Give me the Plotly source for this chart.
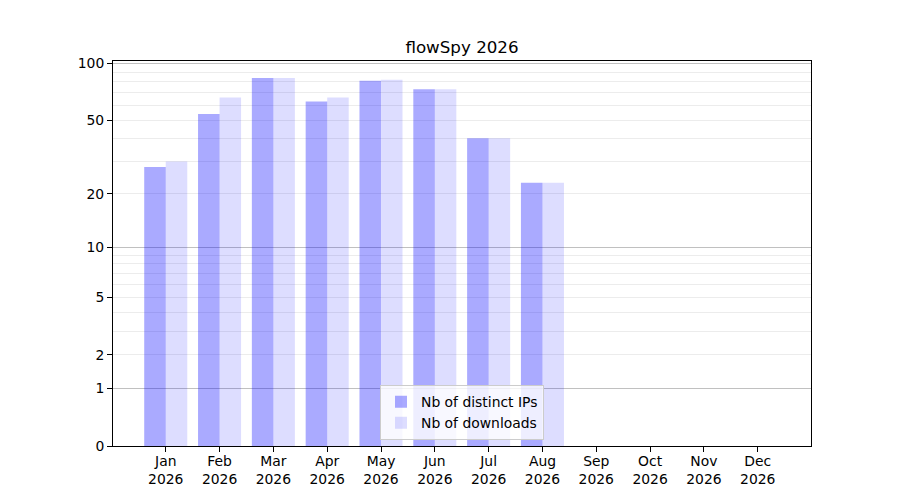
import math
import plotly.graph_objects as go

# Data
months = ["Jan", "Feb", "Mar", "Apr", "May", "Jun", "Jul", "Aug", "Sep", "Oct", "Nov", "Dec"]
year = "2026"
distinct_ips = [28, 54, 84, 63, 81, 73, 40, 23, 0, 0, 0, 0]
downloads = [30, 66, 84, 66, 82, 73, 40, 23, 0, 0, 0, 0]

# y axis is log10(1 + v): ticks, light grid and dark grid
y_ticks = [0, 1, 2, 5, 10, 20, 50, 100]
minor_grid = [2, 3, 4, 5, 6, 7, 8, 9, 20, 30, 40, 50, 60, 70, 80, 90]
major_grid = [1, 10, 100]
y_top = 103.2

x = list(range(len(months)))
labels = [m + "<br>" + year for m in months]

fig = go.Figure()

fig.add_trace(go.Bar(
    x=x, y=distinct_ips, base=1,
    name="Nb of distinct IPs",
    marker_color="rgba(0,0,255,0.333)",
    marker_line_width=0,
))
fig.add_trace(go.Bar(
    x=x, y=downloads, base=1,
    name="Nb of downloads",
    marker_color="rgba(0,0,255,0.133)",
    marker_line_width=0,
))
# empty trace so the overlay axis (dark grid) is drawn
fig.add_trace(go.Scatter(x=[], y=[], yaxis="y2", showlegend=False, hoverinfo="skip"))

font = dict(family="DejaVu Sans", size=13.9, color="black")
y_range = [0, math.log10(y_top + 1)]

# the page body has an 8px margin, so shift the plot area up/left by 8px
fig.update_layout(
    width=900, height=500,
    margin=dict(l=105, r=97, t=53, b=62),
    paper_bgcolor="white", plot_bgcolor="white",
    font=font,
    barmode="group", bargap=0.2, bargroupgap=0,
    title=dict(text="flowSpy 2026", x=0.5, xref="paper", xanchor="center",
               y=1, yref="paper", yanchor="bottom", pad=dict(b=8),
               font=dict(family="DejaVu Sans", size=16.7, color="black")),
    legend=dict(x=0.5, xanchor="center", y=0.015, yanchor="bottom",
                bgcolor="rgba(255,255,255,0.8)", bordercolor="#cccccc", borderwidth=1,
                font=font),
    showlegend=True,
)

fig.update_xaxes(
    range=[-0.98, 11.99],
    tickmode="array", tickvals=x, ticktext=labels,
    ticks="outside", ticklen=5, tickcolor="black",
    ticklabelstandoff=-3,
    showline=True, linecolor="black", linewidth=1, mirror=True,
    showgrid=False, zeroline=False,
)

fig.update_yaxes(
    type="log", range=y_range,
    tickmode="array", tickvals=[t + 1 for t in y_ticks], ticktext=[str(t) for t in y_ticks],
    ticks="outside", ticklen=5, tickcolor="black",
    showline=True, linecolor="black", linewidth=1, mirror=True,
    showgrid=False, zeroline=False,
    minor=dict(tickmode="array", tickvals=[g + 1 for g in minor_grid],
               showgrid=True, gridcolor="#ececec", gridwidth=1, ticks=""),
)

fig.update_layout(yaxis2=dict(
    overlaying="y", anchor="x", side="left", type="log",
    range=y_range,
    tickmode="array", tickvals=[g + 1 for g in major_grid],
    showticklabels=False, ticks="", showline=False, zeroline=False,
    showgrid=True, gridcolor="#c0c0c0", gridwidth=1,
))

fig.write_html("out.html")
